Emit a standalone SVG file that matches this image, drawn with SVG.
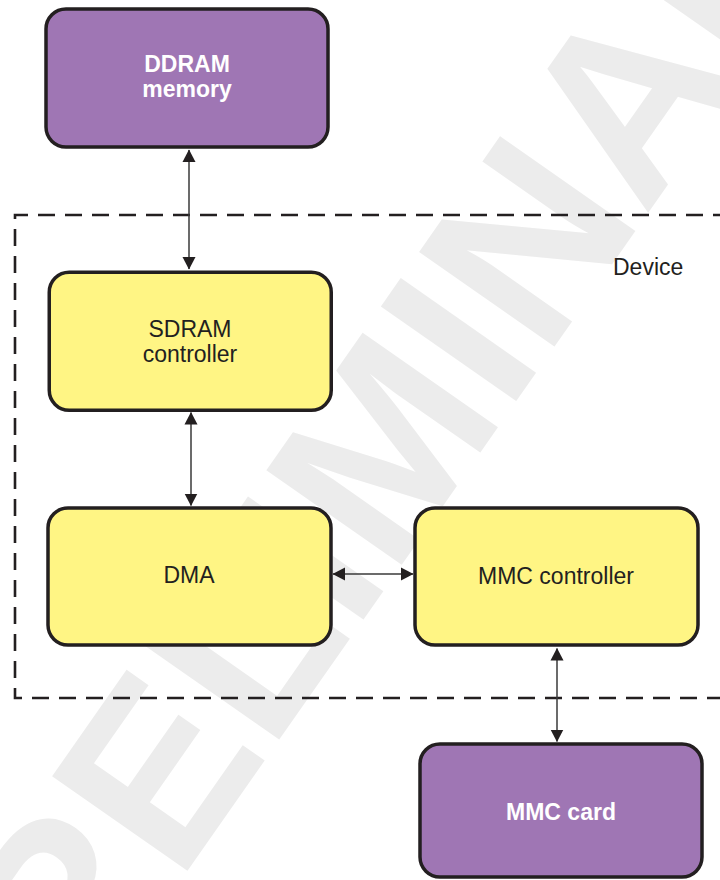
<svg xmlns="http://www.w3.org/2000/svg" width="720" height="880" viewBox="0 0 720 880">
<style>
.box{stroke:#231f20;stroke-width:3.5}
.mem{fill:#9f76b4}
.blk{fill:#fff584}
.lbl{font-family:"Liberation Sans",Arial,sans-serif;font-size:23px;fill:#231f20;text-anchor:middle}
.wl{fill:#ffffff;font-weight:bold}
.conn{stroke:#3a3a3a;stroke-width:1.5;fill:none}
.dash{stroke:#231f20;stroke-width:2.6;fill:none;stroke-dasharray:17 10}
</style>
<defs>
<marker id="ah" markerUnits="userSpaceOnUse" markerWidth="13" markerHeight="14" viewBox="0 0 13 14" refX="12" refY="7" orient="auto-start-reverse">
<path d="M0,0.5 L12.5,7 L0,13.5 z" fill="#231f20"/>
</marker>
</defs>
<g id="watermark">
<text x="-13" y="1157" transform="rotate(-55 -13 1157)" font-family="Liberation Sans, Arial, sans-serif" font-weight="bold" font-size="240" fill="#ececec">PRELIMINARY</text>
</g>
<g id="device">
<path class="dash" d="M730,215 L15,215 L15,698 L730,698"/>
<text x="613" y="275" class="lbl" style="text-anchor:start">Device</text>
</g>
<g id="ddram">
<rect class="box mem" x="46" y="9" width="282" height="138" rx="20"/>
<text class="lbl wl" x="187" y="72">DDRAM</text>
<text class="lbl wl" x="187" y="97">memory</text>
</g>
<g id="sdram">
<rect class="box blk" x="49.25" y="272.25" width="282" height="138" rx="20"/>
<text class="lbl" x="190" y="337">SDRAM</text>
<text class="lbl" x="190" y="362">controller</text>
</g>
<g id="dma">
<rect class="box blk" x="48" y="508" width="283" height="137" rx="20"/>
<text class="lbl" x="189" y="583">DMA</text>
</g>
<g id="mmcctrl">
<rect class="box blk" x="415" y="508" width="283" height="137" rx="20"/>
<text class="lbl" x="556" y="584">MMC controller</text>
</g>
<g id="mmccard">
<rect class="box mem" x="420" y="744" width="282" height="133" rx="20"/>
<text class="lbl wl" x="561" y="820">MMC card</text>
</g>
<g id="connectors">
<line class="conn" x1="189" y1="150" x2="189" y2="269" marker-start="url(#ah)" marker-end="url(#ah)"/>
<line class="conn" x1="191" y1="412.5" x2="191" y2="505.5" marker-start="url(#ah)" marker-end="url(#ah)"/>
<line class="conn" x1="333" y1="574" x2="413" y2="574" marker-start="url(#ah)" marker-end="url(#ah)"/>
<line class="conn" x1="557" y1="648.5" x2="557" y2="741.5" marker-start="url(#ah)" marker-end="url(#ah)"/>
</g>
</svg>
